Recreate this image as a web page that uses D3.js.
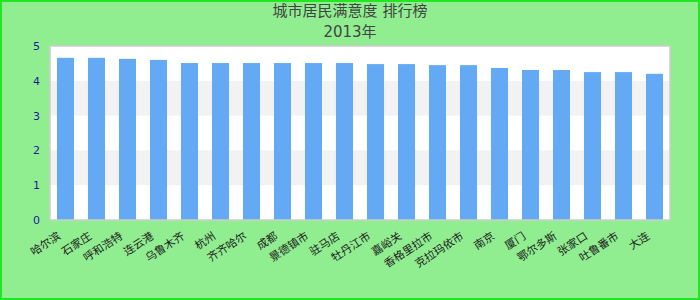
<!DOCTYPE html>
<html>
<head>
<meta charset="utf-8">
<script src="https://cdn.jsdelivr.net/npm/d3@7"></script>
<style>
  body { margin: 0; background: #fff; }
  text { font-family: "DejaVu Sans", "Noto Sans CJK SC", sans-serif; }
</style>
</head>
<body>
<div id="chart"></div>
<script>
// Chart data
var cities = ["哈尔滨", "石家庄", "呼和浩特", "连云港", "乌鲁木齐", "杭州", "齐齐哈尔", "成都",
  "景德镇市", "驻马店", "牡丹江市", "嘉峪关", "香格里拉市", "克拉玛依市", "南京", "厦门",
  "鄂尔多斯", "张家口", "吐鲁番市", "大连"];
var scores = [4.66, 4.66, 4.63, 4.60, 4.51, 4.51, 4.51, 4.51, 4.51, 4.51,
  4.48, 4.48, 4.45, 4.45, 4.37, 4.31, 4.31, 4.25, 4.25, 4.20];
var yTicks = [0, 1, 2, 3, 4, 5];
var titleText = "城市居民满意度 排行榜";
var subtitleText = "2013年";

// SVG size and margins
var svgWidth = 700;
var svgHeight = 300;
var margin = { top: 46, right: 30, bottom: 80, left: 50 };
var chartWidth = svgWidth - margin.left - margin.right;
var chartHeight = svgHeight - margin.top - margin.bottom;

var svg = d3.select("#chart")
  .append("svg")
  .attr("width", svgWidth)
  .attr("height", svgHeight);

// background + outer border
svg.append("rect")
  .attr("x", 1).attr("y", 1)
  .attr("width", svgWidth - 2).attr("height", svgHeight - 2)
  .attr("fill", "#90ee90")
  .attr("stroke", "#22e622")
  .attr("stroke-width", 2);

var chartGroup = svg.append("g")
  .attr("transform", `translate(${margin.left}, ${margin.top})`);

// scales
var xBandScale = d3.scaleBand()
  .domain(cities)
  .range([0, chartWidth])
  .paddingInner(0.45)
  .paddingOuter(0.225);

var yLinearScale = d3.scaleLinear()
  .domain([0, 5])
  .range([chartHeight, 0]);

// plot background
chartGroup.append("rect")
  .attr("width", chartWidth)
  .attr("height", chartHeight)
  .attr("fill", "#fff");

// alternating grid bands
var bands = d3.pairs(yTicks).filter((d, i) => i % 2 === 1);
chartGroup.selectAll(".band")
  .data(bands)
  .enter()
  .append("rect")
  .attr("x", 0)
  .attr("width", chartWidth)
  .attr("y", d => yLinearScale(d[1]))
  .attr("height", d => yLinearScale(d[0]) - yLinearScale(d[1]))
  .attr("fill", "#f2f2f2");

// bars
chartGroup.selectAll(".bar")
  .data(scores)
  .enter()
  .append("rect")
  .attr("x", (d, i) => xBandScale(cities[i]))
  .attr("width", xBandScale.bandwidth())
  .attr("y", d => yLinearScale(d))
  .attr("height", d => chartHeight - yLinearScale(d))
  .attr("fill", "#63a9f4");

// plot frame
chartGroup.append("rect")
  .attr("width", chartWidth)
  .attr("height", chartHeight)
  .attr("fill", "none")
  .attr("stroke", "#cccccc")
  .attr("stroke-width", 1.5);

// left axis
var leftAxis = d3.axisLeft(yLinearScale)
  .tickValues(yTicks)
  .tickFormat(d3.format("d"))
  .tickSize(0)
  .tickPadding(10);

var yAxisGroup = chartGroup.append("g").call(leftAxis);
yAxisGroup.select(".domain").remove();
yAxisGroup.selectAll("text")
  .attr("fill", "#1a1a9c")
  .style("font-size", "11px");

// bottom axis
var bottomAxis = d3.axisBottom(xBandScale).tickSize(0).tickPadding(0);
var xAxisGroup = chartGroup.append("g")
  .attr("transform", "translate(0, " + chartHeight + ")")
  .call(bottomAxis);
xAxisGroup.select(".domain").remove();
xAxisGroup.selectAll("text")
  .attr("fill", "#222")
  .style("font-size", "11px")
  .style("text-anchor", "end")
  .attr("dy", "0")
  .attr("transform", "translate(-4, 18) rotate(-33)");

// titles
svg.append("text")
  .attr("x", svgWidth / 2)
  .attr("y", 16)
  .attr("text-anchor", "middle")
  .attr("fill", "#444")
  .style("font-size", "15px")
  .text(titleText);

svg.append("text")
  .attr("x", svgWidth / 2)
  .attr("y", 37)
  .attr("text-anchor", "middle")
  .attr("fill", "#444")
  .style("font-size", "15px")
  .text(subtitleText);
</script>
</body>
</html>
